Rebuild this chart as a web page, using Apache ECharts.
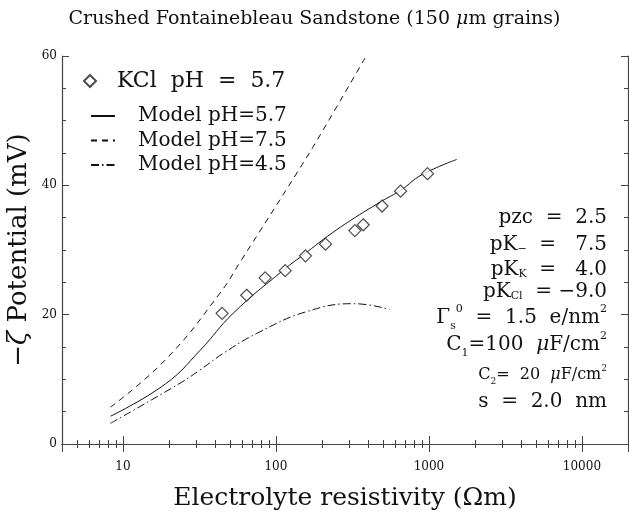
<!DOCTYPE html>
<html>
<head>
<meta charset="utf-8">
<script src="https://cdn.jsdelivr.net/npm/echarts@6/dist/echarts.min.js"></script>
<style>
  html, body { margin: 0; padding: 0; background: #fff; }
  #chart { width: 629px; height: 515px; }
</style>
</head>
<body>
<div id="chart"></div>
<script>
// measured points (KCl, pH 5.7)
const kclRes = [44.5, 64.4, 85, 115, 156, 211, 328, 372, 494, 653, 979];
const kclZeta = [20.2, 23.0, 25.7, 26.8, 29.1, 30.9, 33.0, 33.9, 36.8, 39.1, 41.8];

// model curves
const res57 = [8.3, 19, 32, 52.5, 112, 156, 217, 309, 487, 660, 893, 1520];
const zeta57 = [4.3, 9.3, 14.5, 20.2, 26.9, 29.5, 32.1, 34.6, 37.5, 39.3, 41.6, 44.0];

const res75 = [8.3, 19.1, 43, 59.7, 137, 186, 398];
const zeta75 = [5.7, 13.1, 23.3, 28.5, 41.9, 47.0, 60.4];

const res45 = [8.3, 24, 31.7, 45.2, 75, 160, 325, 552];
const zeta45 = [3.2, 9.5, 11.4, 14.0, 17.1, 20.5, 21.7, 20.8];

const yTicks = [0, 20, 40, 60];

const params = [
  { text: "pzc  =  2.5", top: 208, size: 20 },
  { text: "pK{sub|\u2212}  =   7.5", top: 235, size: 20 },
  { text: "pK{sub|K}  =   4.0", top: 260, size: 20 },
  { text: "pK{sub|Cl}  = \u22129.0", top: 282, size: 20 },
  { text: "\u0393{sub|s}{sup|0}  =  1.5  e/nm{sup|2}", top: 304, size: 20 },
  { text: "C{sub|1}=100  {i|\u03bc}F/cm{sup|2}", top: 331, size: 20 },
  { text: "C{sub|2}=  20  {i|\u03bc}F/cm{sup|2}", top: 364, size: 16 },
  { text: "s  =  2.0  nm", top: 392, size: 20 },
];

const FONT = "DejaVu Serif";
const INK = "#111";

const pairs = (xs, ys) => xs.map((x, i) => [x, ys[i]]);

const decadeLabel = (v) => {
  const l = Math.log10(v);
  return Math.abs(l - Math.round(l)) < 1e-6 ? String(v) : "";
};

const richSub = (size) => ({
  sub: { fontFamily: FONT, fontSize: Math.round(size * 0.55), verticalAlign: "bottom", lineHeight: size * 0.9, color: INK },
  sup: { fontFamily: FONT, fontSize: Math.round(size * 0.55), verticalAlign: "top", lineHeight: size * 1.4, color: INK },
  i: { fontFamily: FONT, fontSize: size, fontStyle: "italic", color: INK },
});

const xAxisBase = {
  type: "log",
  min: 4,
  max: 20000,
  logBase: 10,
  axisLine: { show: true, lineStyle: { color: "#444", width: 1.2 } },
  axisTick: { show: true, inside: true, length: 8, lineStyle: { color: "#444" } },
  minorTick: { show: true, splitNumber: 9, length: 4, lineStyle: { color: "#444" } },
  splitLine: { show: false },
  minorSplitLine: { show: false },
};

const yAxisBase = {
  type: "value",
  min: 0,
  max: 60,
  interval: 20,
  axisLine: { show: true, lineStyle: { color: "#444", width: 1.2 } },
  axisTick: { show: true, inside: true, length: 7, lineStyle: { color: "#444" } },
  minorTick: { show: true, splitNumber: 4, length: 4, lineStyle: { color: "#444" } },
  splitLine: { show: false },
};

const chart = echarts.init(document.getElementById("chart"));

const option = {
  animation: false,
  backgroundColor: "#fff",
  title: {
    text: "Crushed Fontainebleau Sandstone (150 {i|\u03bc}m grains)",
    left: "center",
    top: 5,
    textStyle: {
      fontFamily: FONT,
      fontSize: 19,
      fontWeight: "normal",
      color: INK,
      rich: { i: { fontFamily: FONT, fontSize: 19, fontStyle: "italic", color: INK } },
    },
  },
  grid: { left: 62, right: 1, top: 56, bottom: 71, outerBoundsMode: "none" },
  legend: [
    {
      data: ["KCl pH = 5.7"],
      formatter: () => "KCl  pH  =  5.7",
      left: 83,
      top: 70,
      padding: 0,
      itemWidth: 12,
      itemHeight: 12,
      textStyle: { fontFamily: FONT, fontSize: 22, color: INK, padding: [0, 0, 0, 16] },
    },
    {
      data: ["Model pH=5.7", "Model pH=7.5", "Model pH=4.5"],
      orient: "vertical",
      left: 90,
      top: 106,
      padding: 0,
      itemGap: 4.5,
      itemWidth: 24,
      itemHeight: 14,
      itemStyle: { opacity: 0 },
      textStyle: { fontFamily: FONT, fontSize: 20, color: INK, padding: [0, 0, 0, 18] },
    },
  ],
  xAxis: [
    {
      ...xAxisBase,
      position: "bottom",
      name: "Electrolyte resistivity (\u03a9m)",
      nameLocation: "middle",
      nameGap: 42,
      nameMoveOverlap: false,
      nameTextStyle: { fontFamily: FONT, fontSize: 25, color: INK },
      axisLabel: {
        fontFamily: FONT,
        fontSize: 12,
        color: INK,
        margin: 17,
        formatter: decadeLabel,
        showMinLabel: false,
        showMaxLabel: false,
      },
    },
    {
      ...xAxisBase,
      position: "top",
      axisLabel: { show: false },
    },
  ],
  yAxis: [
    {
      ...yAxisBase,
      position: "left",
      name: "\u2212{i|\u03b6} Potential (mV)",
      nameLocation: "middle",
      nameGap: 30,
      nameMoveOverlap: false,
      nameTextStyle: {
        fontFamily: FONT,
        fontSize: 26,
        color: INK,
        rich: { i: { fontFamily: FONT, fontSize: 26, fontStyle: "italic", color: INK } },
      },
      axisLabel: {
        fontFamily: FONT,
        fontSize: 12,
        color: INK,
        margin: 5,
        formatter: (v) => (yTicks.includes(v) ? String(v) : ""),
      },
    },
    {
      ...yAxisBase,
      position: "right",
      axisLabel: { show: false },
    },
  ],
  series: [
    {
      name: "Model pH=5.7",
      type: "line",
      smooth: 0.45,
      symbol: "none",
      data: pairs(res57, zeta57),
      lineStyle: { color: INK, width: 1 },
      itemStyle: { color: INK },
    },
    {
      name: "Model pH=7.5",
      type: "line",
      smooth: 0.45,
      symbol: "none",
      data: pairs(res75, zeta75),
      lineStyle: { color: INK, width: 1, type: [6, 5] },
      itemStyle: { color: INK },
    },
    {
      name: "Model pH=4.5",
      type: "line",
      smooth: 0.45,
      symbol: "none",
      data: pairs(res45, zeta45),
      lineStyle: { color: INK, width: 1, type: [8, 3, 1.5, 3] },
      itemStyle: { color: INK },
    },
    {
      name: "KCl pH = 5.7",
      type: "scatter",
      symbol: "diamond",
      symbolSize: 12,
      data: pairs(kclRes, kclZeta),
      itemStyle: { color: "#fff", borderColor: "#222", borderWidth: 1.2 },
      z: 5,
    },
  ],
  graphic: params.map((p) => ({
    type: "text",
    right: 22,
    top: p.top,
    style: {
      text: p.text,
      fontFamily: FONT,
      fontSize: p.size,
      fill: INK,
      align: "right",
      rich: richSub(p.size),
    },
  })),
};

chart.setOption(option);
</script>
</body>
</html>
